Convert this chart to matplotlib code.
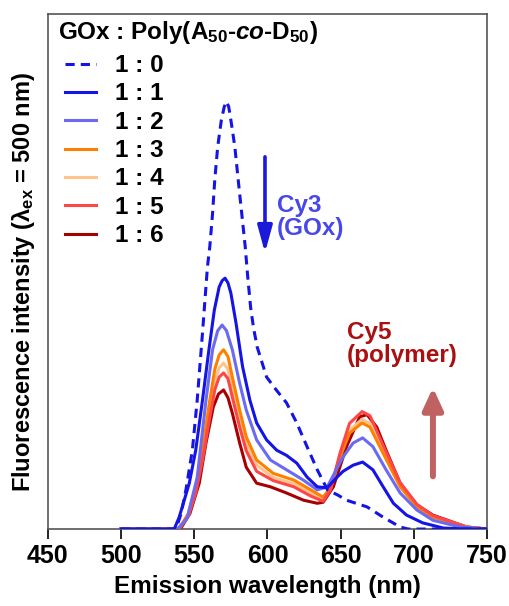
import numpy as np
from matplotlib import pyplot as plt

plt.rcParams['font.family'] = ['Liberation Sans', 'DejaVu Sans']
plt.rcParams['font.weight'] = 'bold'
plt.rcParams['mathtext.fontset'] = 'custom'
plt.rcParams['mathtext.rm'] = 'Liberation Sans:bold'
plt.rcParams['mathtext.it'] = 'Liberation Sans:bold:italic'
plt.rcParams['mathtext.bf'] = 'Liberation Sans:bold'

# spectra (intensity in arbitrary units, baseline = 0)
wl0 = [500, 537.5, 541, 544.3, 548.7, 552, 555.6, 559, 560.6, 562.5, 564, 566, 568.5, 570.5, 572, 573.5,
       575, 577.7, 580, 582.4, 584.8, 586.5, 588.5, 590.5, 593, 599.4, 606, 613, 620, 627, 634, 641, 648,
       654, 668, 679, 690.6, 696, 750]
i0 = [0, 0, 0.03, 0.076, 0.153, 0.25, 0.38, 0.509, 0.548, 0.613, 0.678, 0.742, 0.794, 0.82, 0.83, 0.82,
      0.794, 0.742, 0.678, 0.613, 0.548, 0.49, 0.43, 0.39, 0.353, 0.295, 0.27, 0.245, 0.206, 0.16, 0.115,
      0.076, 0.066, 0.056, 0.043, 0.023, 0.004, 0, 0]

wl1 = [500, 536.3, 539.7, 546.6, 551, 555.6, 560, 563.7, 567, 569, 571, 573, 575, 578.5, 583, 588, 592.6,
       599.4, 606.3, 613, 620, 627, 634, 640.8, 647.6, 651.6, 658.5, 665, 672, 679, 686, 695, 706, 720,
       735, 750]
i1 = [0, 0, 0.023, 0.089, 0.153, 0.25, 0.348, 0.425, 0.47, 0.482, 0.487, 0.478, 0.458, 0.40, 0.315, 0.25,
      0.206, 0.173, 0.153, 0.143, 0.128, 0.101, 0.082, 0.08, 0.101, 0.112, 0.124, 0.13, 0.115, 0.082,
      0.05, 0.027, 0.012, 0.002, 0, 0]

wl2 = [500, 538.5, 545, 552, 558, 562.5, 566, 569, 572, 576, 581, 585.5, 592.6, 602, 613, 624.5, 634,
       640.8, 647, 651.6, 658.5, 665, 672, 681, 690.6, 702, 713, 731.6, 750]
i2 = [0, 0, 0.02, 0.1, 0.25, 0.348, 0.385, 0.396, 0.385, 0.348, 0.283, 0.231, 0.173, 0.134, 0.115, 0.095,
      0.076, 0.082, 0.115, 0.14, 0.167, 0.177, 0.16, 0.115, 0.07, 0.037, 0.017, 0.004, 0]

wl3 = [500, 539.5, 546, 551, 555.6, 560.6, 564, 567, 570, 573, 576, 581, 585.5, 592.6, 604, 618, 629.6,
       638, 643, 649.6, 656, 664.6, 670, 679, 690.6, 702, 713, 736, 750]
i3 = [0, 0, 0.03, 0.08, 0.153, 0.25, 0.31, 0.338, 0.348, 0.335, 0.295, 0.231, 0.179, 0.134, 0.108, 0.095,
      0.076, 0.062, 0.08, 0.14, 0.186, 0.206, 0.198, 0.147, 0.082, 0.043, 0.023, 0.004, 0]
i4 = [0, 0, 0.028, 0.075, 0.143, 0.232, 0.288, 0.313, 0.322, 0.31, 0.273, 0.213, 0.165, 0.124, 0.1, 0.088,
      0.07, 0.057, 0.078, 0.142, 0.192, 0.213, 0.205, 0.152, 0.085, 0.045, 0.024, 0.004, 0]
i5 = [0, 0, 0.026, 0.07, 0.133, 0.217, 0.27, 0.295, 0.303, 0.292, 0.256, 0.198, 0.152, 0.112, 0.094, 0.082,
      0.064, 0.054, 0.076, 0.148, 0.205, 0.228, 0.22, 0.162, 0.09, 0.048, 0.026, 0.004, 0]

wl6 = [500, 540.5, 547, 553.4, 558, 563, 566.5, 570, 573, 576, 581, 585.5, 592.6, 602, 613, 624.6, 634,
       638, 645, 654, 663, 668, 674.6, 681, 690.6, 702, 713, 736, 750]
i6 = [0, 0, 0.03, 0.089, 0.167, 0.237, 0.262, 0.27, 0.255, 0.225, 0.167, 0.12, 0.089, 0.082, 0.07, 0.056,
      0.05, 0.052, 0.082, 0.16, 0.218, 0.222, 0.198, 0.153, 0.089, 0.047, 0.027, 0.004, 0]

labels = ['1 : 0', '1 : 1', '1 : 2', '1 : 3', '1 : 4', '1 : 5', '1 : 6']
xs = [wl0, wl1, wl2, wl3, wl3, wl3, wl6]
ys = [i0, i1, i2, i3, i4, i5, i6]
colors = ['#1414e6', '#1414e6', '#6a6af2', '#ff8000', '#ffc48e', '#ff4646', '#a80000']
zorders = [9, 10, 8, 6, 5, 7, 4]

fig = plt.figure(figsize=(5.09, 6.06), dpi=100)
ax = fig.add_axes([0.094, 0.127, 0.863, 0.85])

for k in range(len(labels)):
    ls = (0, (3, 2)) if k == 0 else '-'
    ax.plot(xs[k], ys[k], linestyle=ls, color=colors[k], lw=2.2, label=labels[k], zorder=zorders[k])

ax.set_xlim(450, 750)
ax.set_ylim(0, 1)
ax.set_xticks([450, 500, 550, 600, 650, 700, 750])
ax.set_yticks([])
ax.tick_params(axis='x', direction='out', length=7, width=1.2, labelsize=18, pad=4)
for s in ax.spines.values():
    s.set_color('#555555')
    s.set_linewidth(1.2)
ax.set_xlabel('Emission wavelength (nm)', fontsize=17.5, fontweight='bold', labelpad=5)
ax.set_ylabel('Fluorescence intensity (λ$_{\\rm ex}$ = 500 nm)', fontsize=17.0, fontweight='bold')
ax.yaxis.set_label_coords(-0.025, 0.48)

ax.text(0.023, 0.963, r'GOx : Poly(A$_{50}$-$\mathit{co}$-D$_{50}$)', transform=ax.transAxes,
        fontsize=17.5, fontweight='bold', va='center', ha='left')
leg = ax.legend(loc='upper left', bbox_to_anchor=(0.0166, 0.941), frameon=False,
                fontsize=17.5, handlelength=1.3, handletextpad=0.76,
                labelspacing=0.22, borderaxespad=0.0, borderpad=0.4)

ax.annotate('', xy=(598.3, 0.531), xytext=(598.3, 0.728),
            arrowprops=dict(arrowstyle='-|>,head_width=0.22,head_length=0.8', mutation_scale=20,
                            color='#1a1ad8', lw=2.6))
ax.text(606.5, 0.606, 'Cy3\n(GOx)', color='#4848ea', fontsize=17.5, fontweight='bold',
        va='center', ha='left', linespacing=1.0)
ax.annotate('', xy=(713, 0.28), xytext=(713, 0.097),
            arrowprops=dict(arrowstyle='-|>,head_width=0.3,head_length=0.65', mutation_scale=20,
                            color='#c06262', lw=4.3))
ax.text(654.4, 0.36, 'Cy5\n(polymer)', color='#aa1010', fontsize=17.5, fontweight='bold',
        va='center', ha='left', linespacing=1.0)

plt.savefig('out.png', dpi=100)
